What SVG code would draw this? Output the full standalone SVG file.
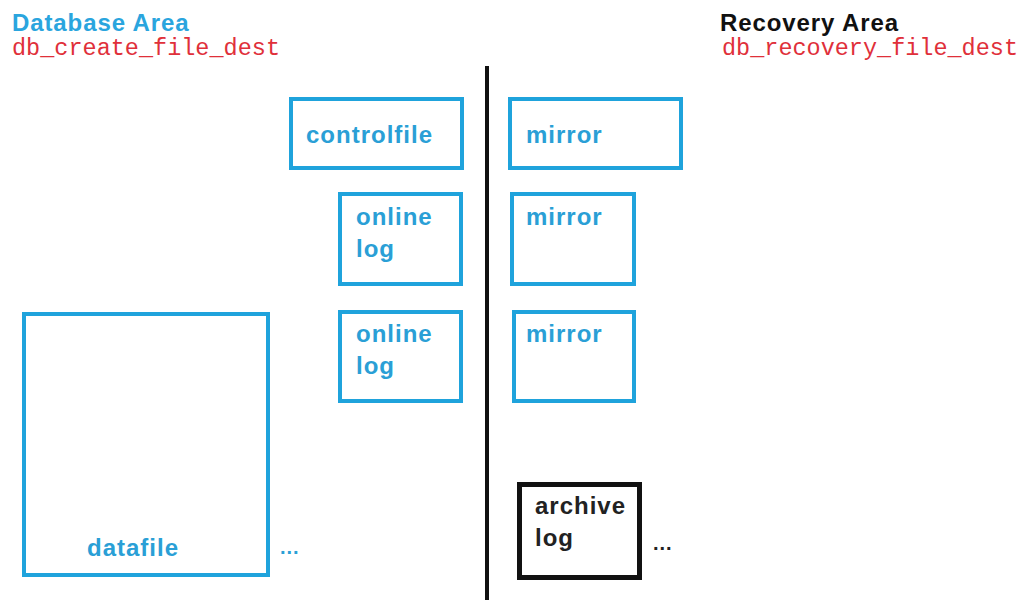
<svg xmlns="http://www.w3.org/2000/svg" width="1024" height="600" viewBox="0 0 1024 600">
  <style>
    .title { font-family: "Liberation Sans", Arial, sans-serif; font-weight: bold; font-size: 24px; letter-spacing: 0.9px; }
    .param { font-family: "Liberation Mono", "Courier New", monospace; font-size: 23.5px; fill: #e0303a; }
    .box { fill: none; stroke: #1fa3dc; stroke-width: 4; }
    .box-dark { fill: none; stroke: #111; stroke-width: 5; }
    .lbl { font-family: "Liberation Sans", Arial, sans-serif; font-weight: bold; font-size: 24px; letter-spacing: 1px; fill: #2a9fd6; }
    .lbl-dark { font-family: "Liberation Sans", Arial, sans-serif; font-weight: bold; font-size: 24px; letter-spacing: 1px; fill: #222; }
    .dots { font-family: "Liberation Sans", Arial, sans-serif; font-weight: bold; font-size: 20px; letter-spacing: 1px; }
  </style>
  <rect width="1024" height="600" fill="#ffffff"/>

  <!-- area headings -->
  <g id="database-area">
    <text class="title" x="12" y="31" fill="#2aa5de">Database Area</text>
    <text class="param" x="12" y="55" textLength="268" lengthAdjust="spacing">db_create_file_dest</text>
  </g>
  <g id="recovery-area">
    <text class="title" x="720" y="31" fill="#111">Recovery Area</text>
    <text class="param" x="722" y="55" textLength="296" lengthAdjust="spacing">db_recovery_file_dest</text>
  </g>

  <!-- divider between the two areas -->
  <g id="connectors">
    <line x1="487" y1="66" x2="487" y2="600" stroke="#111" stroke-width="4"/>
  </g>

  <!-- database area files -->
  <g id="controlfile">
    <rect class="box" x="291" y="99" width="171" height="69"/>
    <text class="lbl" x="306" y="143">controlfile</text>
  </g>
  <g id="online-log-1">
    <rect class="box" x="340" y="194" width="121" height="90"/>
    <text class="lbl" x="356" y="225">online</text>
    <text class="lbl" x="356" y="257">log</text>
  </g>
  <g id="online-log-2">
    <rect class="box" x="340" y="312" width="121" height="89"/>
    <text class="lbl" x="356" y="342">online</text>
    <text class="lbl" x="356" y="374">log</text>
  </g>
  <g id="datafile">
    <rect class="box" x="24" y="314" width="244" height="261"/>
    <text class="lbl" x="133" y="556" text-anchor="middle">datafile</text>
    <text class="dots" x="280" y="554" fill="#2a9fd6">...</text>
  </g>

  <!-- recovery area files -->
  <g id="mirror-1">
    <rect class="box" x="510" y="99" width="171" height="69"/>
    <text class="lbl" x="526" y="143">mirror</text>
  </g>
  <g id="mirror-2">
    <rect class="box" x="512" y="194" width="122" height="90"/>
    <text class="lbl" x="526" y="225">mirror</text>
  </g>
  <g id="mirror-3">
    <rect class="box" x="514" y="312" width="120" height="89"/>
    <text class="lbl" x="526" y="342">mirror</text>
  </g>
  <g id="archive-log">
    <rect class="box-dark" x="519.5" y="484.5" width="120" height="93"/>
    <text class="lbl-dark" x="535" y="514">archive</text>
    <text class="lbl-dark" x="535" y="546">log</text>
    <text class="dots" x="653" y="550" fill="#222">...</text>
  </g>
</svg>
